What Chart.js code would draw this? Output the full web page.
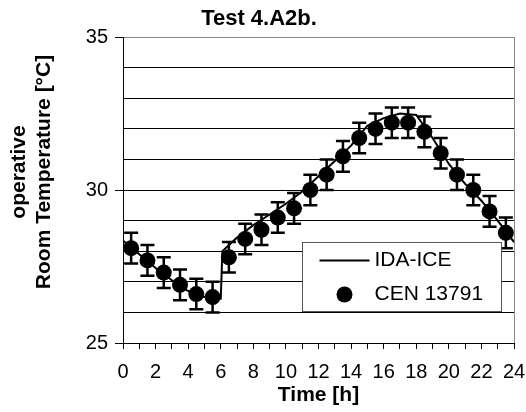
<!DOCTYPE html>
<html>
<head>
<meta charset="utf-8">
<script src="https://cdn.jsdelivr.net/npm/chart.js@4/dist/chart.umd.min.js"></script>
<style>
    html, body { margin: 0; padding: 0; background: #fff; }
    canvas { display: block; }
</style>
</head>
<body>
<canvas id="canvas" width="526" height="412"></canvas>
<script>

// IDA-ICE simulation (continuous line)
const idaHours = [0, 1, 2, 3, 4, 5, 6, 6.1, 7, 8, 9, 10, 11, 12, 13, 14, 15, 16, 17, 18, 19, 20, 21, 22, 23, 24];
const idaTemp = [28.35, 27.9, 27.45, 27.05, 26.7, 26.5, 26.45, 28.0, 28.45, 28.85, 29.2, 29.55, 29.95, 30.45, 30.95, 31.45, 32.1, 32.35, 32.5, 32.45, 31.7, 30.85, 30.2, 29.65, 29.0, 28.3];

// CEN 13791 reference values (hourly means) with tolerance band
const cenHours = [0.5, 1.5, 2.5, 3.5, 4.5, 5.5, 6.5, 7.5, 8.5, 9.5, 10.5, 11.5, 12.5, 13.5, 14.5, 15.5, 16.5, 17.5, 18.5, 19.5, 20.5, 21.5, 22.5, 23.5];
const cenTemp = [28.1, 27.7, 27.3, 26.9, 26.6, 26.5, 27.8, 28.4, 28.7, 29.1, 29.4, 30.0, 30.5, 31.1, 31.7, 32.0, 32.2, 32.2, 31.9, 31.2, 30.5, 30.0, 29.3, 28.6];
const cenTolerance = 0.5;

const yMin = 25;
const yMax = 35;
const xMin = 0;
const xMax = 24;
const yTitleLines = ['operative', 'Room Temperature [°C]'];

const fontFamily = '"Liberation Sans", Arial, sans-serif';
const toPoints = (xs, ys) => xs.map((x, i) => ({ x, y: ys[i] }));

Chart.defaults.font.family = fontFamily;
Chart.defaults.color = '#000';

// vertical error bars with caps for the CEN points
const errorBars = {
    id: 'errorBars',
    afterDatasetsDraw(chart) {
        const { ctx, scales: { x, y } } = chart;
        ctx.save();
        ctx.strokeStyle = '#000';
        ctx.lineWidth = 2.5;
        cenHours.forEach((h, i) => {
            const px = x.getPixelForValue(h);
            const top = y.getPixelForValue(cenTemp[i] + cenTolerance);
            const bottom = y.getPixelForValue(cenTemp[i] - cenTolerance);
            ctx.beginPath();
            ctx.moveTo(px, top);
            ctx.lineTo(px, bottom);
            ctx.moveTo(px - 7, top);
            ctx.lineTo(px + 7, top);
            ctx.moveTo(px - 7, bottom);
            ctx.lineTo(px + 7, bottom);
            ctx.stroke();
        });
        ctx.restore();
    },
};

// right frame line, rotated y title and boxed legend in the lower right corner
const frameAndLegend = {
    id: 'frameAndLegend',
    afterDraw(chart) {
        const { ctx, chartArea } = chart;
        ctx.save();
        ctx.strokeStyle = '#888';
        ctx.lineWidth = 1;
        ctx.beginPath();
        ctx.moveTo(chartArea.right + 0.5, chartArea.top);
        ctx.lineTo(chartArea.right + 0.5, chartArea.bottom);
        ctx.stroke();

        // y axis title, two lines, a bit above the middle of the axis
        ctx.save();
        ctx.translate(0, (chartArea.top + chartArea.bottom) / 2 - 18);
        ctx.rotate(-Math.PI / 2);
        ctx.font = 'bold 21px ' + fontFamily;
        ctx.textAlign = 'center';
        ctx.textBaseline = 'middle';
        ctx.fillStyle = '#000';
        ctx.fillText(yTitleLines[0], 0, 19);
        ctx.fillText(yTitleLines[1], 0, 44);
        ctx.restore();

        const bx = chartArea.right - 211.5;
        const by = chartArea.top + 205.5;
        const bw = 199;
        const bh = 69;
        ctx.fillStyle = '#fff';
        ctx.fillRect(bx, by, bw, bh);
        ctx.strokeStyle = '#555';
        ctx.strokeRect(bx, by, bw, bh);

        ctx.strokeStyle = '#000';
        ctx.lineWidth = 2;
        ctx.beginPath();
        ctx.moveTo(bx + 17, by + 18);
        ctx.lineTo(bx + 67, by + 18);
        ctx.stroke();

        ctx.fillStyle = '#000';
        ctx.beginPath();
        ctx.arc(bx + 42, by + 52, 8, 0, Math.PI * 2);
        ctx.fill();

        ctx.font = '21px ' + fontFamily;
        ctx.textBaseline = 'middle';
        ctx.textAlign = 'left';
        ctx.fillText(chart.data.datasets[0].label, bx + 72, by + 18);
        ctx.fillText(chart.data.datasets[1].label, bx + 72, by + 52);
        ctx.restore();
    },
};

const chart = new Chart(document.getElementById('canvas'), {
    type: 'scatter',
    data: {
        datasets: [
            {
                label: 'IDA-ICE',
                data: toPoints(idaHours, idaTemp),
                showLine: true,
                borderColor: '#000',
                borderWidth: 2,
                pointRadius: 0,
                tension: 0,
            },
            {
                label: 'CEN 13791',
                data: toPoints(cenHours, cenTemp),
                backgroundColor: '#000',
                borderColor: '#000',
                pointRadius: 8,
                pointBorderWidth: 0,
            },
        ],
    },
    plugins: [errorBars, frameAndLegend],
    options: {
        responsive: false,
        animation: false,
        layout: {
            padding: { left: 4, right: 12, top: 4, bottom: 2 },
        },
        plugins: {
            legend: { display: false },
            tooltip: { enabled: false },
            title: {
                display: true,
                text: 'Test 4.A2b.',
                font: { size: 22, weight: 'bold', lineHeight: 1.2 },
                padding: { top: 2, bottom: 4.6 },
            },
        },
        scales: {
            x: {
                type: 'linear',
                min: xMin,
                max: xMax,
                afterFit: (scale) => {
                    scale.height = 67;
                    scale.paddingLeft = 0;
                    scale.paddingRight = 0;
                },
                border: { color: '#000', width: 1 },
                grid: {
                    drawOnChartArea: false,
                    tickLength: 6,
                    color: '#000',
                },
                ticks: {
                    stepSize: 1,
                    autoSkip: false,
                    maxRotation: 0,
                    padding: 11,
                    font: { size: 20 },
                    callback: (v) => (v % 2 === 0 ? v : ''),
                },
                title: {
                    display: true,
                    text: 'Time [h]',
                    font: { size: 21, weight: 'bold' },
                    padding: { top: 0, bottom: 2 },
                },
            },
            y: {
                min: yMin,
                max: yMax,
                afterFit: (scale) => { scale.width = 119; },
                border: { color: '#000', width: 1 },
                grid: {
                    color: (c) => (c.tick && c.tick.value === yMax ? '#888' : '#000'),
                    tickColor: (c) => (c.tick && c.tick.value % 5 === 0 ? '#000' : 'rgba(0,0,0,0)'),
                    tickLength: 8,
                    lineWidth: 1,
                },
                ticks: {
                    stepSize: 1,
                    padding: 7,
                    font: { size: 20 },
                    callback: (v) => (v % 5 === 0 ? v : ''),
                },
            },
        },
    },
});

</script>
</body>
</html>
